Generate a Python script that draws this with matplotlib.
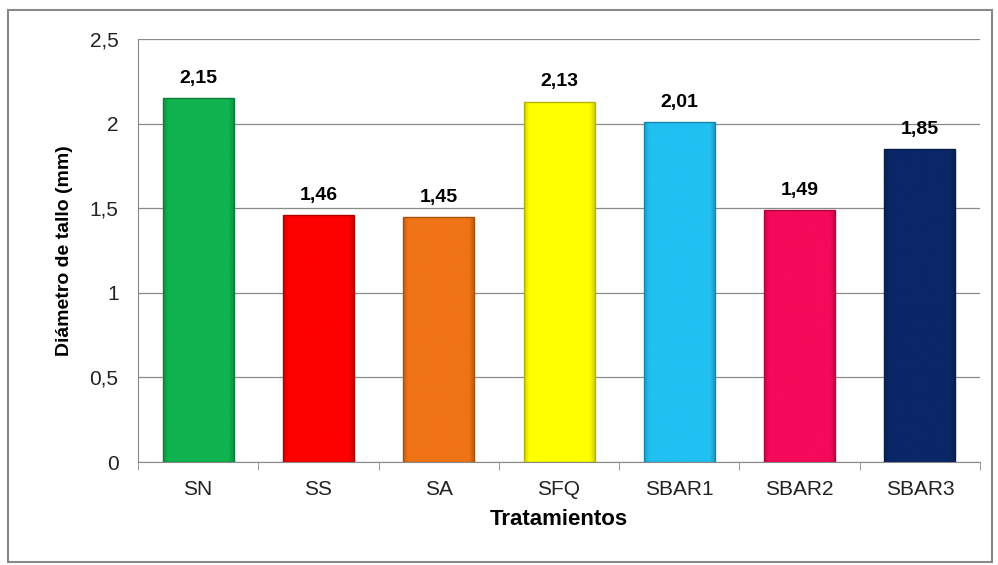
import numpy as np
import matplotlib.pyplot as plt
from matplotlib.patches import Rectangle
import matplotlib.colors as mcolors

# Données
tratamientos = ["SN", "SS", "SA", "SFQ", "SBAR1", "SBAR2", "SBAR3"]
diametro = [2.15, 1.46, 1.45, 2.13, 2.01, 1.49, 1.85]
etiquetas = ["2,15", "1,46", "1,45", "2,13", "2,01", "1,49", "1,85"]
colores = ["#0fb34f", "#fe0000", "#f07416", "#ffff00", "#21c0f2", "#f5095a", "#0a2868"]
yticks = [0, 0.5, 1, 1.5, 2, 2.5]
yticklabels = ["0", "0,5", "1", "1,5", "2", "2,5"]

police = "Liberation Sans"

fig = plt.figure(figsize=(9.98, 5.65), dpi=100)
ax = fig.add_axes([0.1383, 0.1823, 0.8437, 0.7487])

x = np.arange(len(tratamientos))
width = 0.59
bars = ax.bar(x, diametro, width=width, color=colores, zorder=2)

# léger biseau : bords plus sombres, centre uni
g = np.linspace(0, 1, 100)
shade = np.ones_like(g)
bord = 0.07
shade[g < bord] = 0.82 + 0.18 * g[g < bord] / bord
shade[g > 1 - bord] = 0.82 + 0.18 * (1 - g[g > 1 - bord]) / bord
for b, c in zip(bars, colores):
    rgb = np.array(mcolors.to_rgb(c))
    img = np.clip(rgb[None, :] * shade[:, None], 0, 1)[None, :, :]
    x0, y0 = b.get_x(), b.get_y()
    w, h = b.get_width(), b.get_height()
    im = ax.imshow(img, extent=[x0, x0 + w, y0, y0 + h], aspect="auto",
                   zorder=2.5, interpolation="bilinear")
    im.set_clip_path(b)
    ax.add_patch(Rectangle((x0, y0), w, h, fill=False,
                           edgecolor=np.clip(rgb * 0.7, 0, 1), lw=1.0, zorder=3))

for xi, v, lab in zip(x, diametro, etiquetas):
    ax.annotate(lab, (xi, v), xytext=(0, 8), textcoords="offset points",
                ha="center", va="bottom", fontsize=14, fontweight="bold",
                family=police)

ax.set_xlim(-0.5, len(tratamientos) - 0.5)
ax.set_ylim(0, 2.5)
ax.set_yticks(yticks)
ax.set_yticklabels(yticklabels, fontsize=15, family=police, color="#222222")
ax.set_xticks(x)
ax.set_xticklabels(tratamientos, fontsize=15, family=police, color="#222222")
ax.set_xticks(np.arange(-0.5, len(tratamientos)), minor=True)
ax.tick_params(axis="x", which="major", length=0, pad=13)
ax.tick_params(axis="x", which="minor", length=6, color="#888888")
ax.tick_params(axis="y", length=0, pad=14)
ax.grid(axis="y", color="#8a8a8a", lw=0.9, zorder=1)
ax.set_axisbelow(True)
for s in ["top", "right"]:
    ax.spines[s].set_visible(False)
ax.spines["left"].set_color("#888888")
ax.spines["bottom"].set_color("#888888")

ax.set_ylabel("Diámetro de tallo (mm)", fontsize=14, fontweight="bold",
              family=police, labelpad=12)
ax.set_xlabel("Tratamientos", fontsize=16, fontweight="bold",
              family=police, labelpad=7)

# cadre autour de la figure
fig.patches.append(Rectangle((0.008, 0.006), 0.986, 0.976, transform=fig.transFigure,
                             fill=False, edgecolor="#888888", lw=1.5))

fig.savefig("out.png", dpi=100)
